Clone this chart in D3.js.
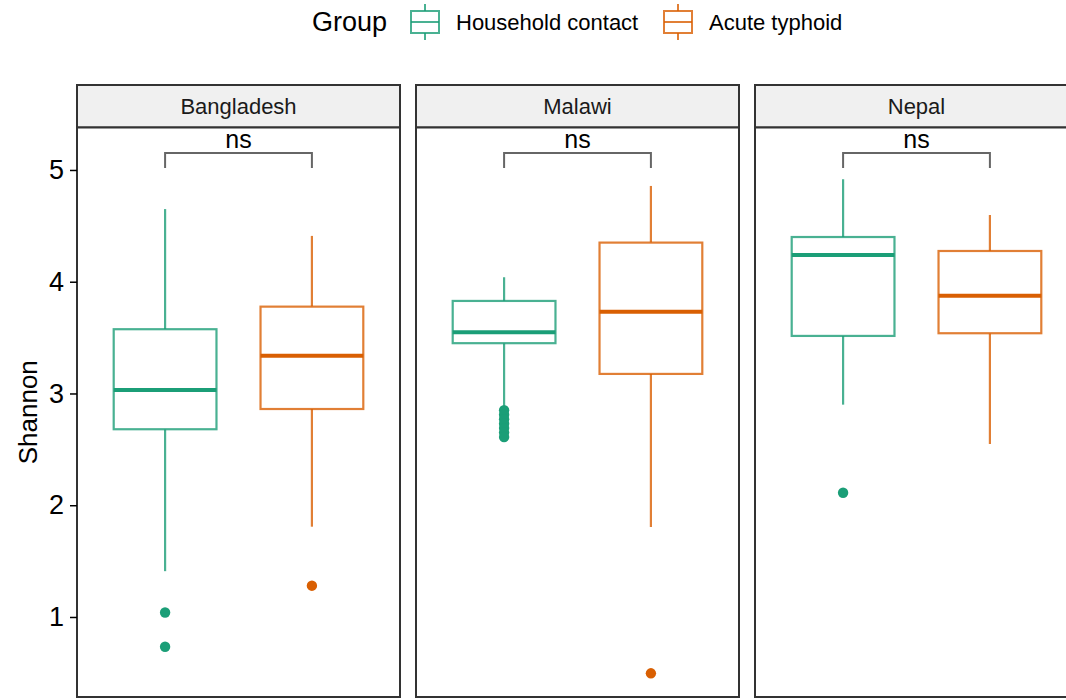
<!DOCTYPE html>
<html>
<head>
<meta charset="utf-8">
<script src="https://cdn.jsdelivr.net/npm/d3@7"></script>
<style>
  body { margin: 0; background: #fff; }
  svg { display: block; font-family: "Liberation Sans", Arial, Helvetica, sans-serif; }
</style>
</head>
<body>
<svg id="chart" width="1066" height="700"></svg>
<script>
// ---- data ----
const countries = ["Bangladesh", "Malawi", "Nepal"];
const groups = ["Household contact", "Acute typhoid"];
const groupColors = ["#1B9E77", "#D95F02"];
const yTicks = [1, 2, 3, 4, 5];
const yTitle = "Shannon";
const legendTitle = "Group";
const pLabels = ["ns", "ns", "ns"];

// box statistics per country: [Bangladesh, Malawi, Nepal]
const hcLower  = [1.41, 2.89, 2.90];
const hcQ1     = [2.68, 3.45, 3.515];
const hcMedian = [3.03, 3.548, 4.24];
const hcQ3     = [3.575, 3.828, 4.40];
const hcUpper  = [4.65, 4.04, 4.917];
const hcOutliers = [[1.04, 0.734], [2.85, 2.81, 2.77, 2.73, 2.69, 2.65, 2.61], [2.112]];

const atLower  = [1.808, 1.805, 2.548];
const atQ1     = [2.861, 3.175, 3.539];
const atMedian = [3.338, 3.732, 3.875];
const atQ3     = [3.777, 4.35, 4.275];
const atUpper  = [4.41, 4.857, 4.597];
const atOutliers = [[1.28], [0.496], []];

const bracketY = 5.152;   // bracket level (data units)
const bracketTip = 5.018;

// ---- build table ----
const boxes = [];
countries.forEach((c, i) => {
  boxes.push({country: c, group: groups[0], lower: hcLower[i], q1: hcQ1[i], median: hcMedian[i], q3: hcQ3[i], upper: hcUpper[i], outliers: hcOutliers[i]});
  boxes.push({country: c, group: groups[1], lower: atLower[i], q1: atQ1[i], median: atMedian[i], q3: atQ3[i], upper: atUpper[i], outliers: atOutliers[i]});
});

// ---- layout ----
const svg = d3.select("#chart");
const panelTop = 127.5, panelBottom = 697;
const stripTop = 85;
const fx = d3.scaleBand().domain(countries).range([77, 1078]).paddingInner(16 / 339).paddingOuter(0);
const pw = fx.bandwidth();
const x = d3.scalePoint().domain(groups).range([0, pw]).padding(0.6);
const boxW = x.step() * 0.7;
const y = d3.scaleLinear().domain([0.284, 5.38]).range([panelBottom, panelTop]);
const color = d3.scaleOrdinal().domain(groups).range(groupColors);

// ---- panels ----
const panels = svg.selectAll("g.panel").data(countries).join("g")
  .attr("class", "panel")
  .attr("transform", d => `translate(${fx(d)},0)`);

// strip
panels.append("rect")
  .attr("x", 0).attr("y", stripTop).attr("width", pw).attr("height", panelTop - stripTop)
  .attr("fill", "#F0F0F0").attr("stroke", "#333").attr("stroke-width", 2);
panels.append("text")
  .attr("x", pw / 2).attr("y", (stripTop + panelTop) / 2)
  .attr("dy", "0.35em").attr("text-anchor", "middle")
  .attr("font-size", 22).attr("fill", "#1a1a1a")
  .text(d => d);

// panel background
panels.append("rect")
  .attr("x", 0).attr("y", panelTop).attr("width", pw).attr("height", panelBottom - panelTop)
  .attr("fill", "#fff");

// boxes
panels.each(function(c, ci) {
  const g = d3.select(this);
  const data = boxes.filter(b => b.country === c);
  const bg = g.selectAll("g.box").data(data).join("g").attr("class", "box");
  const cx = d => x(d.group);
  // whiskers
  bg.append("line")
    .attr("x1", cx).attr("x2", cx)
    .attr("y1", d => y(d.q3)).attr("y2", d => y(d.upper))
    .attr("stroke", d => color(d.group)).attr("stroke-width", 2.2).attr("stroke-opacity", 0.8);
  bg.append("line")
    .attr("x1", cx).attr("x2", cx)
    .attr("y1", d => y(d.q1)).attr("y2", d => y(d.lower))
    .attr("stroke", d => color(d.group)).attr("stroke-width", 2.2).attr("stroke-opacity", 0.8);
  // box
  bg.append("rect")
    .attr("x", d => cx(d) - boxW / 2).attr("width", boxW)
    .attr("y", d => y(d.q3)).attr("height", d => y(d.q1) - y(d.q3))
    .attr("fill", "#fff").attr("stroke", d => color(d.group)).attr("stroke-width", 2.2).attr("stroke-opacity", 0.8);
  // median
  bg.append("line")
    .attr("x1", d => cx(d) - boxW / 2).attr("x2", d => cx(d) + boxW / 2)
    .attr("y1", d => y(d.median)).attr("y2", d => y(d.median))
    .attr("stroke", d => color(d.group)).attr("stroke-width", 4);
  // outliers
  bg.selectAll("circle").data(d => d.outliers.map(v => ({v, group: d.group}))).join("circle")
    .attr("cx", d => x(d.group)).attr("cy", d => y(d.v)).attr("r", 5.2)
    .attr("fill", d => color(d.group));

  // bracket
  const x1 = x(groups[0]), x2 = x(groups[1]);
  g.append("path")
    .attr("d", `M${x1},${y(bracketTip)}V${y(bracketY)}H${x2}V${y(bracketTip)}`)
    .attr("fill", "none").attr("stroke", "#666").attr("stroke-width", 2);
  g.append("text")
    .attr("x", (x1 + x2) / 2).attr("y", y(bracketY) - 5)
    .attr("text-anchor", "middle").attr("font-size", 25).attr("fill", "#000")
    .text(pLabels[ci]);
});

// panel border
panels.append("rect")
  .attr("x", 0).attr("y", panelTop).attr("width", pw).attr("height", panelBottom - panelTop)
  .attr("fill", "none").attr("stroke", "#333").attr("stroke-width", 2);

// ---- y axis ----
const yAxis = d3.axisLeft(y).tickValues(yTicks).tickSize(7).tickPadding(6).tickFormat(d3.format("d"));
const ya = svg.append("g").attr("transform", `translate(${fx(countries[0])},0)`).call(yAxis);
ya.select(".domain").remove();
ya.selectAll(".tick line").attr("stroke", "#000").attr("stroke-width", 1.5);
ya.selectAll(".tick text").attr("font-size", 27).attr("fill", "#000")
  .attr("font-family", "Liberation Sans, Arial, sans-serif");

svg.append("text")
  .attr("transform", `translate(28,${(panelTop + panelBottom) / 2}) rotate(-90)`)
  .attr("text-anchor", "middle").attr("dy", "0.35em")
  .attr("font-size", 26).attr("fill", "#000")
  .text(yTitle);

// ---- legend ----
const legend = svg.append("g");
const legY = 22;
legend.append("text").attr("x", 312).attr("y", legY).attr("dy", "0.35em")
  .attr("font-size", 27).attr("fill", "#000").text(legendTitle);
const legItems = [{g: groups[0], kx: 411, tx: 456}, {g: groups[1], kx: 664, tx: 709}];
legItems.forEach(it => {
  const k = legend.append("g").attr("transform", `translate(${it.kx},0)`);
  const c = color(it.g);
  const kw = 28, cxk = kw / 2;
  k.append("line").attr("x1", cxk).attr("x2", cxk).attr("y1", 4).attr("y2", 11)
    .attr("stroke", c).attr("stroke-width", 2).attr("stroke-opacity", 0.8);
  k.append("line").attr("x1", cxk).attr("x2", cxk).attr("y1", 33).attr("y2", 40)
    .attr("stroke", c).attr("stroke-width", 2).attr("stroke-opacity", 0.8);
  k.append("rect").attr("x", 0).attr("y", 11).attr("width", kw).attr("height", 22)
    .attr("fill", "#fff").attr("stroke", c).attr("stroke-width", 2).attr("stroke-opacity", 0.8);
  k.append("line").attr("x1", 0).attr("x2", kw).attr("y1", legY).attr("y2", legY)
    .attr("stroke", c).attr("stroke-width", 2).attr("stroke-opacity", 0.8);
  legend.append("text").attr("x", it.tx).attr("y", legY).attr("dy", "0.35em")
    .attr("font-size", 22).attr("fill", "#000").text(it.g);
});
</script>
</body>
</html>
